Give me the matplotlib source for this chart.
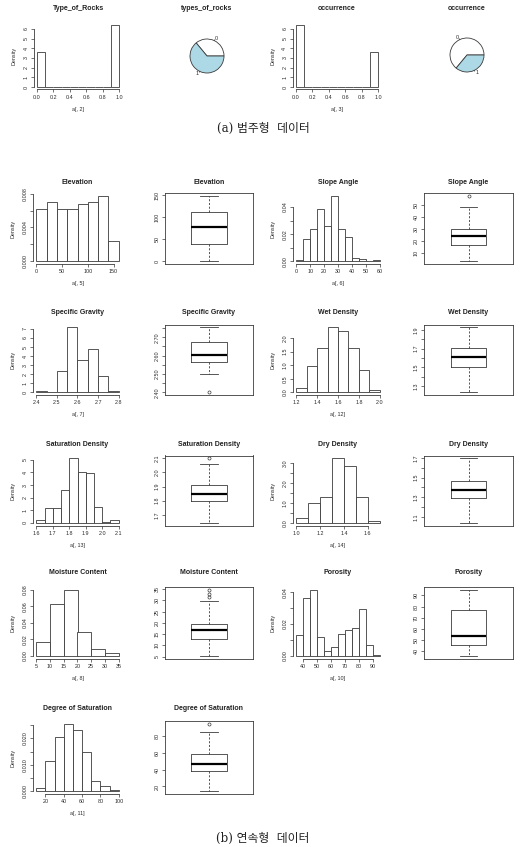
import matplotlib
matplotlib.use("Agg")
import matplotlib.pyplot as plt

W, H = 526, 847
EDGE = "#3a3a3a"
plt.rcParams["font.family"] = ["Liberation Sans", "DejaVu Sans"]

# ---- (a) categorical data ----
cat_breaks = [0.0, 0.1, 0.2, 0.3, 0.4, 0.5, 0.6, 0.7, 0.8, 0.9, 1.0]
rocks_density = [3.6, 0, 0, 0, 0, 0, 0, 0, 0, 6.4]
occur_density = [6.4, 0, 0, 0, 0, 0, 0, 0, 0, 3.6]
rocks_share = [0.36, 0.64]
occur_share = [0.64, 0.36]
pie_labels = ["0", "1"]

# ---- (b) continuous data: histogram breaks / densities, box stats ----
elev_breaks = [0, 20, 40, 60, 80, 100, 120, 140, 160]
elev_density = [0.0062, 0.0070, 0.0062, 0.0062, 0.0068, 0.0070, 0.0077, 0.0024]
elev_stats = [0, 39, 78.5, 113, 148]
elev_out = []

slope_breaks = [0, 5, 10, 15, 20, 25, 30, 35, 40, 45, 50, 55, 60]
slope_density = [0.0012, 0.0166, 0.0236, 0.0385, 0.026, 0.048, 0.0236, 0.0176,
                 0.0027, 0.0015, 0.0, 0.0012]
slope_stats = [3, 16.8, 24, 29.7, 48.4]
slope_out = [57.5]

sg_breaks = [2.40, 2.45, 2.50, 2.55, 2.60, 2.65, 2.70, 2.75, 2.80]
sg_density = [0.15, 0.0, 2.37, 7.2, 3.55, 4.78, 1.78, 0.15]
sg_stats = [2.50, 2.567, 2.605, 2.673, 2.755]
sg_out = [2.40]

wet_breaks = [1.2, 1.3, 1.4, 1.5, 1.6, 1.7, 1.8, 1.9, 2.0]
wet_density = [0.15, 0.98, 1.65, 2.4, 2.26, 1.65, 0.83, 0.08]
wet_stats = [1.23, 1.50, 1.608, 1.707, 1.93]
wet_out = []

sat_breaks = [1.60, 1.65, 1.70, 1.75, 1.80, 1.85, 1.90, 1.95, 2.00, 2.05, 2.10]
sat_density = [0.21, 1.16, 1.16, 2.63, 5.13, 4.06, 3.92, 1.29, 0.08, 0.21]
sat_stats = [1.644, 1.80, 1.847, 1.91, 2.06]
sat_out = [2.10]

dry_breaks = [1.0, 1.1, 1.2, 1.3, 1.4, 1.5, 1.6, 1.7]
dry_density = [0.25, 0.98, 1.32, 3.26, 2.87, 1.32, 0.12]
dry_stats = [1.038, 1.293, 1.376, 1.469, 1.70]
dry_out = []

mc_breaks = [5, 10, 15, 20, 25, 30, 35]
mc_density = [0.0168, 0.063, 0.08, 0.0284, 0.0088, 0.0036]
mc_stats = [5.3, 12.7, 16.7, 19.7, 29.9]
mc_out = [31.5, 33.0, 34.8]

por_breaks = [35, 40, 45, 50, 55, 60, 65, 70, 75, 80, 85, 90, 95]
por_density = [0.0132, 0.0365, 0.0416, 0.0118, 0.0033, 0.0058, 0.0138, 0.0165,
               0.0177, 0.0293, 0.007, 0.0008]
por_stats = [35.5, 45, 53.4, 76.4, 95.2]
por_out = []

dos_breaks = [10, 20, 30, 40, 50, 60, 70, 80, 90, 100]
dos_density = [0.00125, 0.0116, 0.0206, 0.0255, 0.0231, 0.0147, 0.0037, 0.0019, 0.0006]
dos_stats = [14.3, 38, 46.7, 58.2, 84.2]
dos_out = [94]


def px_axes(fig, left, top, right, bottom):
    return fig.add_axes([left / W, 1 - bottom / H, (right - left) / W, (bottom - top) / H])


def ftext(fig, x, y, s, **kw):
    fig.text(x / W, 1 - y / H, s, **kw)


def tick_style(ax):
    ax.tick_params(direction="out", length=2.2, width=0.5, color=EDGE,
                   labelsize=3.9, pad=1.5, labelcolor="#2a2a2a")
    ax.tick_params(axis="y", labelrotation=90)
    for lab in ax.get_yticklabels():
        lab.set_va("center")


def labels_for(ticks, shown, fmt):
    return [fmt.format(t) if t in shown else "" for t in ticks]


def r_hist(fig, box, breaks, dens, title, xlab, xticks, xfmt, yticks, yshown, yfmt, title_y):
    l, t, r, b = box
    ax = px_axes(fig, l, t, r, b)
    widths = [b1 - b0 for b0, b1 in zip(breaks[:-1], breaks[1:])]
    ax.bar(breaks[:-1], dens, width=widths, align="edge", color="white",
           edgecolor=EDGE, linewidth=0.6)
    span = breaks[-1] - breaks[0]
    ax.set_xlim(breaks[0] - 0.04 * span, breaks[-1] + 0.04 * span)
    top = max(dens)
    ax.set_ylim(-0.04 * top, 1.04 * top)
    for side in ("top", "right"):
        ax.spines[side].set_visible(False)
    for side in ("left", "bottom"):
        ax.spines[side].set_linewidth(0.6)
        ax.spines[side].set_color(EDGE)
    ax.spines["bottom"].set_bounds(xticks[0], xticks[-1])
    ax.spines["left"].set_bounds(yticks[0], yticks[-1])
    ax.set_xticks(xticks)
    ax.set_xticklabels([xfmt.format(v) for v in xticks])
    ax.set_yticks(yticks)
    ax.set_yticklabels(labels_for(yticks, yshown, yfmt))
    tick_style(ax)
    ax.set_xlabel(xlab, fontsize=3.9, labelpad=5, color="#2a2a2a")
    ax.set_ylabel("Density", fontsize=3.9, labelpad=5, color="#2a2a2a")
    ftext(fig, (l + r) / 2, title_y, title, ha="center", va="center",
          fontsize=5, fontweight="bold", color="#222222")
    return ax


def r_box(fig, box, stats, outliers, title, yticks, yshown, yfmt, title_y):
    l, t, r, b = box
    ax = px_axes(fig, l, t, r, b)
    lo, q1, med, q3, hi = stats
    ax.bxp([dict(whislo=lo, q1=q1, med=med, q3=q3, whishi=hi, fliers=outliers)],
           positions=[1], widths=0.4, capwidths=0.2, showfliers=True,
           boxprops=dict(color=EDGE, linewidth=0.6),
           whiskerprops=dict(color=EDGE, linewidth=0.6, linestyle=(0, (2.5, 2))),
           capprops=dict(color=EDGE, linewidth=0.6),
           medianprops=dict(color="black", linewidth=1.6),
           flierprops=dict(marker="o", markerfacecolor="none", markeredgecolor=EDGE,
                           markersize=2.2, markeredgewidth=0.5))
    vals = stats + outliers
    lo_v, hi_v = min(vals), max(vals)
    span = hi_v - lo_v
    ax.set_xlim(0.5, 1.5)
    ax.set_ylim(lo_v - 0.04 * span, hi_v + 0.04 * span)
    for sp in ax.spines.values():
        sp.set_linewidth(0.6)
        sp.set_color(EDGE)
    ax.set_xticks([])
    ax.set_yticks(yticks)
    ax.set_yticklabels(labels_for(yticks, yshown, yfmt))
    tick_style(ax)
    ftext(fig, (l + r) / 2, title_y, title, ha="center", va="center",
          fontsize=5, fontweight="bold", color="#222222")
    return ax


def r_pie(fig, cx, cy, rad, shares, title, title_y):
    import math
    ax = px_axes(fig, cx - rad, cy - rad, cx + rad, cy + rad)
    ax.pie(shares, labels=pie_labels, colors=["white", "lightblue"], startangle=0,
           counterclock=True, labeldistance=1.12,
           wedgeprops=dict(edgecolor=EDGE, linewidth=0.6),
           textprops=dict(fontsize=3.9, color="#2a2a2a"))
    ax.set_xlim(-1, 1)
    ax.set_ylim(-1, 1)
    start = 0.0
    for s in shares:
        mid = 2 * math.pi * (start + s / 2)
        ax.plot([math.cos(mid), 1.05 * math.cos(mid)], [math.sin(mid), 1.05 * math.sin(mid)],
                color=EDGE, linewidth=0.5, clip_on=False)
        start += s
    ftext(fig, cx, title_y, title, ha="center", va="center",
          fontsize=5, fontweight="bold", color="#222222")


def main():
    fig = plt.figure(figsize=(W / 100, H / 100), dpi=100)

    # (a) top row
    cat_ticks = [0.0, 0.2, 0.4, 0.6, 0.8, 1.0]
    dens_ticks = [0, 1, 2, 3, 4, 5, 6]
    r_hist(fig, (33.7, 22.6, 122.7, 89.5), cat_breaks, rocks_density, "Type_of_Rocks",
           "a[, 2]", cat_ticks, "{:.1f}", dens_ticks, dens_ticks, "{:d}", 9)
    r_pie(fig, 207, 56, 17, rocks_share, "types_of_rocks", 9)
    r_hist(fig, (292.5, 22.6, 381.5, 89.5), cat_breaks, occur_density, "occurrence",
           "a[, 3]", cat_ticks, "{:.1f}", dens_ticks, dens_ticks, "{:d}", 9)
    r_pie(fig, 467, 55, 17, occur_share, "occurrence", 9)

    cap_family = ["DejaVu Serif", "Noto Sans CJK KR"]
    ftext(fig, 263, 128, "(a) 범주형  데이터", ha="center", va="center",
          fontsize=8.5, family=cap_family, color="#222222")

    # (b) continuous variables, 4 columns x 5 rows
    c1, c2, c3, c4 = (33, 122), (165, 253), (293, 383), (424, 513)
    rows = [(193.5, 264), (324.5, 395), (455.5, 525.5), (587, 658.5), (721, 794)]
    ty = [182, 312, 444, 573, 709]

    def hb(col, row):
        return (col[0], rows[row][0], col[1], rows[row][1])

    r_hist(fig, hb(c1, 0), elev_breaks, elev_density, "Elevation", "a[, 5]",
           [0, 50, 100, 150], "{}", [0, 0.002, 0.004, 0.006, 0.008], [0, 0.004, 0.008],
           "{:.3f}", ty[0])
    r_box(fig, hb(c2, 0), elev_stats, elev_out, "Elevation", [0, 50, 100, 150],
          [0, 50, 100, 150], "{}", ty[0])
    r_hist(fig, hb(c3, 0), slope_breaks, slope_density, "Slope Angle", "a[, 6]",
           [0, 10, 20, 30, 40, 50, 60], "{}", [0, 0.01, 0.02, 0.03, 0.04], [0, 0.02, 0.04],
           "{:.2f}", ty[0])
    r_box(fig, hb(c4, 0), slope_stats, slope_out, "Slope Angle", [10, 20, 30, 40, 50],
          [10, 20, 30, 40, 50], "{}", ty[0])

    r_hist(fig, hb(c1, 1), sg_breaks, sg_density, "Specific Gravity", "a[, 7]",
           [2.4, 2.5, 2.6, 2.7, 2.8], "{:.1f}", [0, 1, 2, 3, 4, 5, 6, 7],
           [0, 1, 2, 3, 4, 5, 6, 7], "{}", ty[1])
    sg_ticks = [2.40, 2.45, 2.50, 2.55, 2.60, 2.65, 2.70, 2.75]
    r_box(fig, hb(c2, 1), sg_stats, sg_out, "Specific Gravity", sg_ticks,
          [2.40, 2.50, 2.60, 2.70], "{:.2f}", ty[1])
    r_hist(fig, hb(c3, 1), wet_breaks, wet_density, "Wet Density", "a[, 12]",
           [1.2, 1.4, 1.6, 1.8, 2.0], "{:.1f}", [0, 0.5, 1.0, 1.5, 2.0],
           [0, 0.5, 1.0, 1.5, 2.0], "{:.1f}", ty[1])
    wet_ticks = [1.3, 1.4, 1.5, 1.6, 1.7, 1.8, 1.9]
    r_box(fig, hb(c4, 1), wet_stats, wet_out, "Wet Density", wet_ticks,
          [1.3, 1.5, 1.7, 1.9], "{:.1f}", ty[1])

    r_hist(fig, hb(c1, 2), sat_breaks, sat_density, "Saturation Density", "a[, 13]",
           [1.6, 1.7, 1.8, 1.9, 2.0, 2.1], "{:.1f}", [0, 1, 2, 3, 4, 5],
           [0, 1, 2, 3, 4, 5], "{}", ty[2])
    sat_ticks = [1.7, 1.8, 1.9, 2.0, 2.1]
    r_box(fig, hb(c2, 2), sat_stats, sat_out, "Saturation Density", sat_ticks,
          sat_ticks, "{:.1f}", ty[2])
    r_hist(fig, hb(c3, 2), dry_breaks, dry_density, "Dry Density", "a[, 14]",
           [1.0, 1.2, 1.4, 1.6], "{:.1f}", [0, 0.5, 1.0, 1.5, 2.0, 2.5, 3.0],
           [0, 1.0, 2.0, 3.0], "{:.1f}", ty[2])
    dry_ticks = [1.1, 1.2, 1.3, 1.4, 1.5, 1.6, 1.7]
    r_box(fig, hb(c4, 2), dry_stats, dry_out, "Dry Density", dry_ticks,
          [1.1, 1.3, 1.5, 1.7], "{:.1f}", ty[2])

    r_hist(fig, hb(c1, 3), mc_breaks, mc_density, "Moisture Content", "a[, 8]",
           [5, 10, 15, 20, 25, 30, 35], "{}", [0, 0.02, 0.04, 0.06, 0.08],
           [0, 0.02, 0.04, 0.06, 0.08], "{:.2f}", ty[3])
    mc_ticks = [5, 10, 15, 20, 25, 30, 35]
    r_box(fig, hb(c2, 3), mc_stats, mc_out, "Moisture Content", mc_ticks, mc_ticks,
          "{}", ty[3])
    r_hist(fig, hb(c3, 3), por_breaks, por_density, "Porosity", "a[, 10]",
           [40, 50, 60, 70, 80, 90], "{}", [0, 0.01, 0.02, 0.03, 0.04], [0, 0.02, 0.04],
           "{:.2f}", ty[3])
    por_ticks = [40, 50, 60, 70, 80, 90]
    r_box(fig, hb(c4, 3), por_stats, por_out, "Porosity", por_ticks, por_ticks, "{}", ty[3])

    r_hist(fig, hb(c1, 4), dos_breaks, dos_density, "Degree of Saturation", "a[, 11]",
           [20, 40, 60, 80, 100], "{}", [0, 0.005, 0.010, 0.015, 0.020, 0.025],
           [0, 0.010, 0.020], "{:.3f}", ty[4])
    dos_ticks = [20, 40, 60, 80]
    r_box(fig, hb(c2, 4), dos_stats, dos_out, "Degree of Saturation", dos_ticks,
          dos_ticks, "{}", ty[4])

    ftext(fig, 263, 838, "(b) 연속형  데이터", ha="center", va="center",
          fontsize=8.5, family=cap_family, color="#222222")

    fig.savefig("out.png", dpi=100, facecolor="white")


if __name__ == "__main__":
    main()
